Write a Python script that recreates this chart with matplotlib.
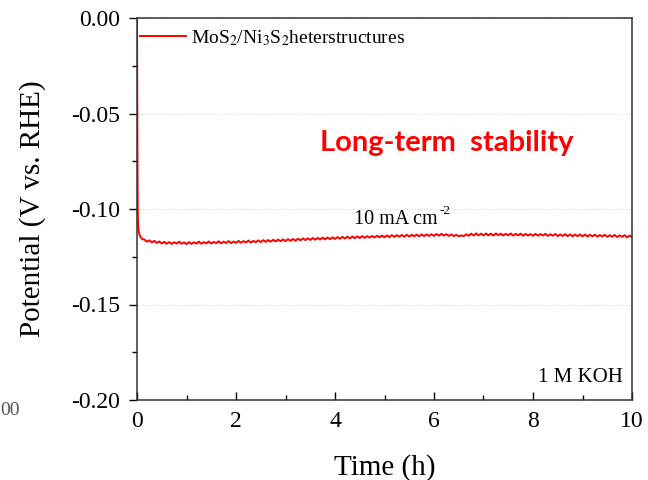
import numpy as np
import matplotlib
matplotlib.use("Agg")
import matplotlib.pyplot as plt

plt.rcParams["font.family"] = ["Liberation Serif", "DejaVu Serif"]
plt.rcParams["mathtext.fontset"] = "stix"
plt.rcParams["axes.unicode_minus"] = False

# ---- data ----------------------------------------------------------------
# initial potential drop right after switching on 10 mA cm-2
t_start = [0.0, 0.005, 0.01, 0.015, 0.02, 0.03, 0.05, 0.08, 0.11]
v_start = [0.0, -0.040, -0.080, -0.100, -0.107, -0.111, -0.1135, -0.1150, -0.1158]

# steady part, sampled every 0.05 h from 0.15 h to 10 h
t_steady = np.round(np.arange(3, 201) * 0.05, 2)
v_steady = [
    # 0.15 - 1.0 h
    -0.1160, -0.1171, -0.1164, -0.1175, -0.1167, -0.1178, -0.1170, -0.1180, -0.1172,
    -0.1182, -0.1173, -0.1183, -0.1174, -0.1181, -0.1171, -0.1182, -0.1175, -0.1184,
    # 1.05 - 2.0 h
    -0.1173, -0.1183, -0.1174, -0.1181, -0.1171, -0.1182, -0.1173, -0.1180, -0.1170, -0.1181,
    -0.1172, -0.1179, -0.1169, -0.1180, -0.1171, -0.1178, -0.1168, -0.1179, -0.1170, -0.1177,
    # 2.05 - 3.0 h
    -0.1167, -0.1177, -0.1168, -0.1175, -0.1165, -0.1176, -0.1167, -0.1174, -0.1164, -0.1173,
    -0.1163, -0.1172, -0.1162, -0.1171, -0.1161, -0.1170, -0.1160, -0.1169, -0.1159, -0.1168,
    # 3.05 - 4.0 h
    -0.1158, -0.1167, -0.1157, -0.1166, -0.1156, -0.1164, -0.1154, -0.1163, -0.1153, -0.1162,
    -0.1152, -0.1161, -0.1151, -0.1160, -0.1150, -0.1159, -0.1149, -0.1158, -0.1148, -0.1157,
    # 4.05 - 5.0 h
    -0.1147, -0.1156, -0.1146, -0.1155, -0.1145, -0.1154, -0.1144, -0.1153, -0.1143, -0.1152,
    -0.1142, -0.1151, -0.1142, -0.1150, -0.1141, -0.1149, -0.1140, -0.1148, -0.1139, -0.1148,
    # 5.05 - 6.0 h
    -0.1138, -0.1147, -0.1137, -0.1146, -0.1137, -0.1145, -0.1136, -0.1145, -0.1135, -0.1144,
    -0.1135, -0.1143, -0.1134, -0.1143, -0.1133, -0.1142, -0.1133, -0.1141, -0.1132, -0.1141,
    # 6.05 - 7.0 h (small dip around 6.6 h)
    -0.1131, -0.1140, -0.1130, -0.1139, -0.1132, -0.1141, -0.1133, -0.1142, -0.1135, -0.1143,
    -0.1138, -0.1142, -0.1133, -0.1140, -0.1129, -0.1139, -0.1128, -0.1138, -0.1129, -0.1138,
    # 7.05 - 8.0 h
    -0.1128, -0.1138, -0.1129, -0.1139, -0.1128, -0.1137, -0.1129, -0.1139, -0.1130, -0.1138,
    -0.1128, -0.1139, -0.1130, -0.1138, -0.1129, -0.1140, -0.1130, -0.1139, -0.1131, -0.1140,
    # 8.05 - 9.0 h
    -0.1130, -0.1140, -0.1131, -0.1139, -0.1130, -0.1141, -0.1132, -0.1140, -0.1131, -0.1142,
    -0.1133, -0.1141, -0.1132, -0.1142, -0.1133, -0.1143, -0.1134, -0.1142, -0.1133, -0.1143,
    # 9.05 - 10.0 h
    -0.1134, -0.1144, -0.1135, -0.1143, -0.1134, -0.1145, -0.1136, -0.1144, -0.1135, -0.1146,
    -0.1137, -0.1145, -0.1136, -0.1147, -0.1138, -0.1146, -0.1137, -0.1148, -0.1139, -0.1147,
]

time_h = np.concatenate([t_start, t_steady])
potential = np.concatenate([v_start, v_steady])

x_ticks = [0, 2, 4, 6, 8, 10]
y_ticks = [0.00, -0.05, -0.10, -0.15, -0.20]

# ---- figure ----------------------------------------------------------------
fig = plt.figure(figsize=(6.48, 4.8), dpi=100)
ax = fig.add_axes([137 / 648, 1 - 400 / 480, (632 - 137) / 648, (400 - 18) / 480])

ax.plot(time_h, potential, color="#ff0000", lw=1.4,
        label=r"MoS$_2$/Ni$_3$S$_2$heterstructures")

ax.set_xlim(0, 10)
ax.set_ylim(-0.20, 0.00)
ax.set_xticks(x_ticks)
ax.set_yticks(y_ticks)
ax.set_yticklabels([f"{v:.2f}" for v in y_ticks])
ax.set_xticks(np.arange(1, 10, 2), minor=True)
ax.set_yticks([-0.025, -0.075, -0.125, -0.175], minor=True)

ax.tick_params(axis="x", which="major", direction="in", length=6, width=1,
               labelsize=17, pad=8)
ax.tick_params(axis="x", which="minor", direction="in", length=3.5, width=1)
ax.tick_params(axis="y", which="major", direction="out", length=6, width=1,
               labelsize=17, pad=6)
ax.tick_params(axis="y", which="minor", direction="out", length=3.5, width=1)

for sp in ax.spines.values():
    sp.set_linewidth(1.1)
    sp.set_color("#333333")

ax.yaxis.grid(True, which="major", linestyle=(0, (1, 1.5)), color="#d8d8d8", lw=0.8)
ax.set_axisbelow(True)

ax.set_xlabel("Time (h)", fontsize=21, labelpad=16)
ax.set_ylabel("Potential (V vs. RHE)", fontsize=21, labelpad=18)

ax.legend(loc="upper left", bbox_to_anchor=(-0.03, 1.02), frameon=False,
          fontsize=14, handlelength=2.4, handletextpad=0.25)

ax.text(0.626, 0.673, "Long-term  stability", transform=ax.transAxes,
        fontsize=21, fontweight="bold", color="#ff0000", family="Lato",
        ha="center", va="center")
cm_txt = ax.text(0.523, 0.473, "10 mA cm", transform=ax.transAxes,
                 fontsize=14.5, ha="center", va="center")
ax.annotate("-2", xy=(1, 0.62), xycoords=cm_txt, xytext=(1, 0),
            textcoords="offset points", fontsize=9.5, ha="left", va="bottom")
ax.text(0.982, 0.058, "1 M KOH", transform=ax.transAxes,
        fontsize=15, ha="right", va="center")

# fragment of a neighbouring panel's tick label at the left edge
fig.text(0.0, 0.145, "00", fontsize=14, color="#555555", ha="left", va="center")

fig.savefig("out.png", dpi=100, facecolor="white")
